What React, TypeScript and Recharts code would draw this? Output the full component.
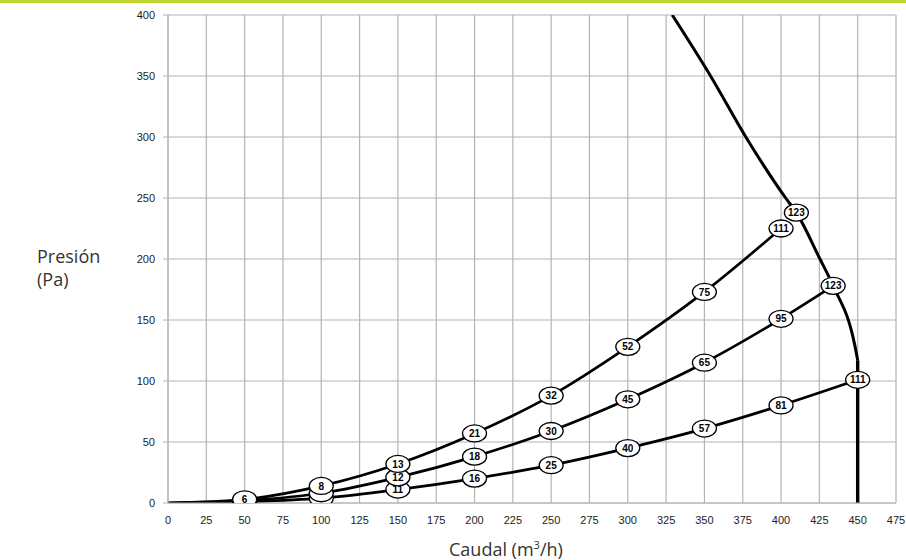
import {
  ComposedChart,
  Line,
  Scatter,
  XAxis,
  YAxis,
  CartesianGrid,
} from 'recharts';

// curve 1 (top)
const flowA = [0, 50, 100, 150, 200, 250, 300, 350, 400];
const pressA = [0, 3, 14, 32, 57, 88, 128, 173, 225];
const tagsA = ['', '6', '8', '13', '21', '32', '52', '75', '111'];

// curve 2 (middle)
const flowB = [0, 50, 100, 150, 200, 250, 300, 350, 400, 434];
const pressB = [0, 2, 8, 21, 38, 59, 85, 115, 151, 178];
const tagsB = ['', '', '', '12', '18', '30', '45', '65', '95', '123'];

// curve 3 (bottom)
const flowC = [0, 50, 100, 150, 200, 250, 300, 350, 400, 450];
const pressC = [0, 1, 4, 11, 20, 31, 45, 61, 80, 101];
const tagsC = ['', '', '', '11', '16', '25', '40', '57', '81', '111'];

// limit curve
const flowLim = [329, 354, 377, 403, 410, 425, 434, 448, 450];
const pressLim = [400, 350, 300, 250, 238, 201, 178, 130, 117];
const flowLimV = [450, 450];
const pressLimV = [117, 0];
const limitTag = { x: 410, y: 238, tag: '123' };

const xTicks = [0, 25, 50, 75, 100, 125, 150, 175, 200, 225, 250, 275, 300, 325, 350, 375, 400, 425, 450, 475];
const yTicks = [0, 50, 100, 150, 200, 250, 300, 350, 400];

const toPoints = (xs: number[], ys: number[]) => xs.map((x, i) => ({ x, y: ys[i] }));

const toTags = (xs: number[], ys: number[], tags: string[]) =>
  xs.map((x, i) => ({ x, y: ys[i], tag: tags[i] })).filter((p) => p.x > 0);

// lower curves first so the top curve's tags sit on top of the stack
const tagPoints = [
  ...toTags(flowC, pressC, tagsC),
  ...toTags(flowB, pressB, tagsB),
  ...toTags(flowA, pressA, tagsA),
  limitTag,
];

const TagShape = (props: any) => {
  const { cx, cy, payload } = props;
  return (
    <g>
      <ellipse cx={cx} cy={cy} rx={12} ry={8.5} fill="#fff" stroke="#000" strokeWidth={1.3} />
      {payload.tag ? (
        <text
          x={cx}
          y={cy}
          dy="0.36em"
          textAnchor="middle"
          fontFamily="'Liberation Sans', Arial, sans-serif"
          fontWeight="bold"
          fontSize={10}
          fill="#000"
        >
          {payload.tag}
        </text>
      ) : null}
    </g>
  );
};

const tickStyle = { fontSize: 11, fill: '#222', fontFamily: "'Liberation Sans', Arial, sans-serif" };

const labelFont = {
  position: 'absolute' as const,
  fontFamily: "'Open Sans', 'Noto Sans', sans-serif",
  fontSize: 18,
  lineHeight: '23px',
  color: '#333',
  whiteSpace: 'nowrap' as const,
};

export default function App() {
  return (
    <div style={{ position: 'absolute', left: 0, top: 0, width: 906, height: 560, background: '#fff' }}>
      <div style={{ position: 'absolute', left: 0, top: 0, width: 906, height: 3, background: '#bfd62f' }} />
      <ComposedChart
        width={906}
        height={560}
        margin={{ top: 15, right: 10, bottom: 27, left: 128 }}
      >
        <CartesianGrid stroke="#b4b4b4" strokeWidth={1.2} verticalValues={xTicks} horizontalValues={yTicks} />
        <XAxis
          type="number"
          dataKey="x"
          domain={[0, 475]}
          ticks={xTicks}
          interval={0}
          height={30}
          tick={tickStyle}
          tickLine={false}
          tickMargin={7}
          axisLine={{ stroke: '#b4b4b4' }}
          allowDataOverflow
        />
        <YAxis
          type="number"
          domain={[0, 400]}
          ticks={yTicks}
          interval={0}
          width={40}
          tick={tickStyle}
          tickSize={5}
          tickMargin={8}
          tickLine={{ stroke: '#b4b4b4' }}
          axisLine={{ stroke: '#b4b4b4' }}
          allowDataOverflow
        />
        <Line data={toPoints(flowC, pressC)} dataKey="y" type="monotone" stroke="#000" strokeWidth={2.7} dot={false} isAnimationActive={false} />
        <Line data={toPoints(flowB, pressB)} dataKey="y" type="monotone" stroke="#000" strokeWidth={2.7} dot={false} isAnimationActive={false} />
        <Line data={toPoints(flowA, pressA)} dataKey="y" type="monotone" stroke="#000" strokeWidth={2.7} dot={false} isAnimationActive={false} />
        <Line data={toPoints(flowLim, pressLim)} dataKey="y" type="monotone" stroke="#000" strokeWidth={3} dot={false} isAnimationActive={false} />
        <Line data={toPoints(flowLimV, pressLimV)} dataKey="y" type="linear" stroke="#000" strokeWidth={3.4} dot={false} isAnimationActive={false} />
        <Scatter data={tagPoints} dataKey="y" shape={<TagShape />} isAnimationActive={false} />
      </ComposedChart>
      <div style={{ ...labelFont, left: 37, top: 245 }}>
        Presión
        <br />
        (Pa)
      </div>
      <div style={{ ...labelFont, left: 449, top: 538 }}>
        Caudal (m<sup style={{ fontSize: 11, verticalAlign: 'super', lineHeight: 0 }}>3</sup>/h)
      </div>
    </div>
  );
}
